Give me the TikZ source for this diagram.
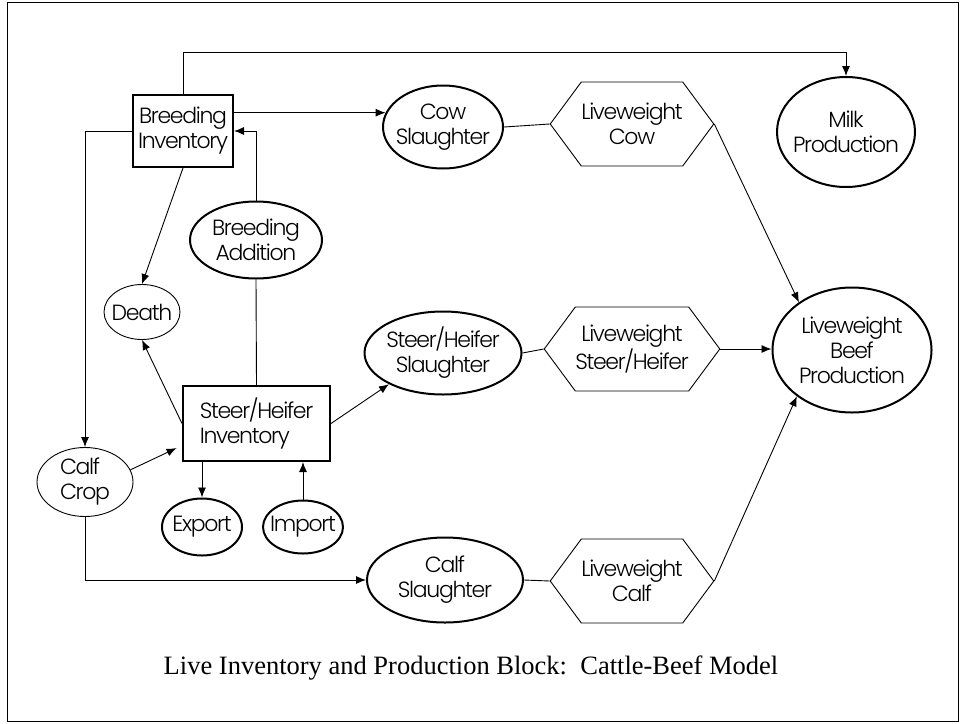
\documentclass[tikz,border=0pt]{standalone}
\usepackage{fontspec}
\setmainfont{Liberation Serif}
\newfontfamily\gothic[LetterSpace=-6]{Poppins Light}
\usetikzlibrary{shapes.geometric,shapes.symbols,arrows.meta}

\begin{document}
\begin{tikzpicture}[x=1pt, y=-1pt, line width=0.9pt, >={Latex[length=10pt,width=8pt]},
  every node/.style={font=\gothic\fontsize{22}{25}\selectfont, align=center},
  inv/.style={draw, line width=2pt, inner sep=0pt},
  big/.style={ellipse, draw, line width=2pt, inner sep=-12pt},
  small/.style={ellipse, draw, line width=0.9pt, inner sep=-12pt},
  wt/.style={signal, signal to=east and west, signal pointer angle=107, draw,
    line width=0.9pt, minimum width=159pt, minimum height=84pt, inner sep=0pt}]
\useasboundingbox (0,0) rectangle (960,723);
\draw (7,2) rectangle (958,721);
\node (bi) [inv, minimum width=100pt, minimum height=72pt] at (183,131) {Breeding\\Inventory};
\node (shi) [inv, align=left, minimum width=147pt, minimum height=75pt] at (256.5,423.5) {Steer/Heifer\\Inventory};
\node (ba) [big, minimum width=132pt, minimum height=77pt] at (256,240) {Breeding\\Addition};
\node (death) [small, minimum width=76pt, minimum height=55pt] at (142,312) {Death};
\node (calf) [small, align=left, minimum width=96pt, minimum height=69pt] at (85,482) {Calf\\Crop};
\node (exp) [big, minimum width=80pt, minimum height=57pt] at (202,527) {Export};
\node (imp) [big, minimum width=80pt, minimum height=53pt] at (303,527) {Import};
\node (cow) [big, minimum width=120pt, minimum height=83pt] at (443,127) {Cow\\Slaughter};
\node (sts) [big, minimum width=157pt, minimum height=83pt] at (443,353) {Steer/Heifer\\Slaughter};
\node (cs) [big, minimum width=156pt, minimum height=85pt] at (445,580) {Calf\\Slaughter};
\node (lwk) [wt] at (632,124) {Liveweight\\Cow};
\node (lws) [wt] at (632,349) {Liveweight\\Steer/Heifer};
\node (lwc) [wt] at (632,581) {Liveweight\\Calf};
\node (milk) [big, minimum width=138pt, minimum height=110pt] at (846,132) {Milk\\Production};
\node (beef) [big, minimum width=159pt, minimum height=125pt] at (852,350) {Liveweight\\Beef\\Production};
\node (cap) [font=\fontsize{26.5}{30}\selectfont] at (471,668) {Live Inventory and Production Block:\ \ Cattle-Beef Model};
% breeding herd
\draw [->] (bi.north) -- ++(0,-42) -| (milk.north);
\draw [->] (cow.166 -| bi.east) -- (cow.166);
\draw [->] (ba.north) |- (bi.east);
\draw (ba.south) -- (shi.north);
\draw [->] (bi.south) -- (death.north);
\draw [->] (shi.west) -- (death.south);
\draw [->] (bi.west) -| (calf.north);
% calves and steers
\draw [->, shorten >=6pt] (calf.15) -- ([yshift=-22pt]shi.west);
\draw [->] (calf.south) |- (cs.west);
\draw [->] (shi.east) -- (sts.210);
\draw [->] (shi.south -| exp.north) -- (exp.north);
\draw [->] (imp.north) -- (imp.north |- shi.south);
% liveweight
\draw (cow.east) -- (lwk.west);
\draw (sts.east) -- (lws.west);
\draw (cs.east) -- (lwc.west);
\draw [->] (lwk.east) -- (beef.138);
\draw [->] (lws.east) -- (lws.east -| beef.west);
\draw [->] (lwc.east) -- (beef.220);
\end{tikzpicture}
\end{document}
